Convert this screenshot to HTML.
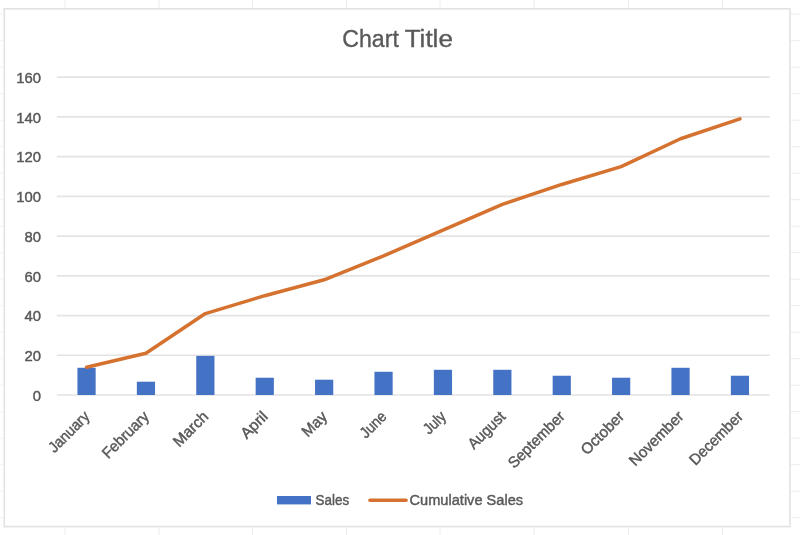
<!DOCTYPE html>
<html><head><meta charset="utf-8"><title>Chart Title</title>
<style>html,body{margin:0;padding:0;background:#fff;}svg{display:block;filter:blur(0.4px);}</style>
</head><body>
<svg width="800" height="535" viewBox="0 0 800 535">
<style>text{font-family:"Liberation Sans",sans-serif;fill:#595959;stroke:#595959;stroke-width:0.45px;} .t{stroke-width:0.35px;}</style>
<rect width="800" height="535" fill="#fff"/>
<line x1="65" y1="0" x2="65" y2="8" stroke="#ececec" stroke-width="1"/>
<line x1="65" y1="528" x2="65" y2="535" stroke="#ececec" stroke-width="1"/>
<line x1="159" y1="0" x2="159" y2="8" stroke="#ececec" stroke-width="1"/>
<line x1="159" y1="528" x2="159" y2="535" stroke="#ececec" stroke-width="1"/>
<line x1="252.5" y1="0" x2="252.5" y2="8" stroke="#ececec" stroke-width="1"/>
<line x1="252.5" y1="528" x2="252.5" y2="535" stroke="#ececec" stroke-width="1"/>
<line x1="346.5" y1="0" x2="346.5" y2="8" stroke="#ececec" stroke-width="1"/>
<line x1="346.5" y1="528" x2="346.5" y2="535" stroke="#ececec" stroke-width="1"/>
<line x1="440" y1="0" x2="440" y2="8" stroke="#ececec" stroke-width="1"/>
<line x1="440" y1="528" x2="440" y2="535" stroke="#ececec" stroke-width="1"/>
<line x1="534" y1="0" x2="534" y2="8" stroke="#ececec" stroke-width="1"/>
<line x1="534" y1="528" x2="534" y2="535" stroke="#ececec" stroke-width="1"/>
<line x1="628.5" y1="0" x2="628.5" y2="8" stroke="#ececec" stroke-width="1"/>
<line x1="628.5" y1="528" x2="628.5" y2="535" stroke="#ececec" stroke-width="1"/>
<line x1="722.5" y1="0" x2="722.5" y2="8" stroke="#ececec" stroke-width="1"/>
<line x1="722.5" y1="528" x2="722.5" y2="535" stroke="#ececec" stroke-width="1"/>
<line x1="0" y1="14.2" x2="3" y2="14.2" stroke="#f3f3f3" stroke-width="1"/>
<line x1="791" y1="14.2" x2="800" y2="14.2" stroke="#ececec" stroke-width="1"/>
<line x1="0" y1="40.7" x2="3" y2="40.7" stroke="#f3f3f3" stroke-width="1"/>
<line x1="791" y1="40.7" x2="800" y2="40.7" stroke="#ececec" stroke-width="1"/>
<line x1="0" y1="67.2" x2="3" y2="67.2" stroke="#f3f3f3" stroke-width="1"/>
<line x1="791" y1="67.2" x2="800" y2="67.2" stroke="#ececec" stroke-width="1"/>
<line x1="0" y1="93.7" x2="3" y2="93.7" stroke="#f3f3f3" stroke-width="1"/>
<line x1="791" y1="93.7" x2="800" y2="93.7" stroke="#ececec" stroke-width="1"/>
<line x1="0" y1="120.2" x2="3" y2="120.2" stroke="#f3f3f3" stroke-width="1"/>
<line x1="791" y1="120.2" x2="800" y2="120.2" stroke="#ececec" stroke-width="1"/>
<line x1="0" y1="146.7" x2="3" y2="146.7" stroke="#f3f3f3" stroke-width="1"/>
<line x1="791" y1="146.7" x2="800" y2="146.7" stroke="#ececec" stroke-width="1"/>
<line x1="0" y1="173.2" x2="3" y2="173.2" stroke="#f3f3f3" stroke-width="1"/>
<line x1="791" y1="173.2" x2="800" y2="173.2" stroke="#ececec" stroke-width="1"/>
<line x1="0" y1="199.7" x2="3" y2="199.7" stroke="#f3f3f3" stroke-width="1"/>
<line x1="791" y1="199.7" x2="800" y2="199.7" stroke="#ececec" stroke-width="1"/>
<line x1="0" y1="226.2" x2="3" y2="226.2" stroke="#f3f3f3" stroke-width="1"/>
<line x1="791" y1="226.2" x2="800" y2="226.2" stroke="#ececec" stroke-width="1"/>
<line x1="0" y1="252.7" x2="3" y2="252.7" stroke="#f3f3f3" stroke-width="1"/>
<line x1="791" y1="252.7" x2="800" y2="252.7" stroke="#ececec" stroke-width="1"/>
<line x1="0" y1="279.2" x2="3" y2="279.2" stroke="#f3f3f3" stroke-width="1"/>
<line x1="791" y1="279.2" x2="800" y2="279.2" stroke="#ececec" stroke-width="1"/>
<line x1="0" y1="305.7" x2="3" y2="305.7" stroke="#f3f3f3" stroke-width="1"/>
<line x1="791" y1="305.7" x2="800" y2="305.7" stroke="#ececec" stroke-width="1"/>
<line x1="0" y1="332.2" x2="3" y2="332.2" stroke="#f3f3f3" stroke-width="1"/>
<line x1="791" y1="332.2" x2="800" y2="332.2" stroke="#ececec" stroke-width="1"/>
<line x1="0" y1="358.7" x2="3" y2="358.7" stroke="#f3f3f3" stroke-width="1"/>
<line x1="791" y1="358.7" x2="800" y2="358.7" stroke="#ececec" stroke-width="1"/>
<line x1="0" y1="385.2" x2="3" y2="385.2" stroke="#f3f3f3" stroke-width="1"/>
<line x1="791" y1="385.2" x2="800" y2="385.2" stroke="#ececec" stroke-width="1"/>
<line x1="0" y1="411.7" x2="3" y2="411.7" stroke="#f3f3f3" stroke-width="1"/>
<line x1="791" y1="411.7" x2="800" y2="411.7" stroke="#ececec" stroke-width="1"/>
<line x1="0" y1="438.2" x2="3" y2="438.2" stroke="#f3f3f3" stroke-width="1"/>
<line x1="791" y1="438.2" x2="800" y2="438.2" stroke="#ececec" stroke-width="1"/>
<line x1="0" y1="464.7" x2="3" y2="464.7" stroke="#f3f3f3" stroke-width="1"/>
<line x1="791" y1="464.7" x2="800" y2="464.7" stroke="#ececec" stroke-width="1"/>
<line x1="0" y1="491.2" x2="3" y2="491.2" stroke="#f3f3f3" stroke-width="1"/>
<line x1="791" y1="491.2" x2="800" y2="491.2" stroke="#ececec" stroke-width="1"/>
<line x1="0" y1="517.7" x2="3" y2="517.7" stroke="#f3f3f3" stroke-width="1"/>
<line x1="791" y1="517.7" x2="800" y2="517.7" stroke="#ececec" stroke-width="1"/>
<rect x="4.3" y="8.8" width="785.7" height="517.8" fill="#fff" stroke="#e2e2e2" stroke-width="1.6"/>
<text class="t" x="342.3" y="47.2" font-size="23.3" textLength="56.5" lengthAdjust="spacingAndGlyphs">Chart</text>
<text class="t" x="404.7" y="47.2" font-size="23.3" textLength="48.2" lengthAdjust="spacingAndGlyphs">Title</text>
<line x1="56.85" y1="395.00" x2="769.65" y2="395.00" stroke="#e3e3e3" stroke-width="1.7"/>
<text x="41" y="400.80" text-anchor="end" font-family="Liberation Sans, sans-serif" font-size="15.4" fill="#595959" textLength="8.26" lengthAdjust="spacingAndGlyphs">0</text>
<line x1="56.85" y1="355.27" x2="769.65" y2="355.27" stroke="#e3e3e3" stroke-width="1.7"/>
<text x="41" y="361.07" text-anchor="end" font-family="Liberation Sans, sans-serif" font-size="15.4" fill="#595959" textLength="16.52" lengthAdjust="spacingAndGlyphs">20</text>
<line x1="56.85" y1="315.55" x2="769.65" y2="315.55" stroke="#e3e3e3" stroke-width="1.7"/>
<text x="41" y="321.35" text-anchor="end" font-family="Liberation Sans, sans-serif" font-size="15.4" fill="#595959" textLength="16.52" lengthAdjust="spacingAndGlyphs">40</text>
<line x1="56.85" y1="275.82" x2="769.65" y2="275.82" stroke="#e3e3e3" stroke-width="1.7"/>
<text x="41" y="281.62" text-anchor="end" font-family="Liberation Sans, sans-serif" font-size="15.4" fill="#595959" textLength="16.52" lengthAdjust="spacingAndGlyphs">60</text>
<line x1="56.85" y1="236.10" x2="769.65" y2="236.10" stroke="#e3e3e3" stroke-width="1.7"/>
<text x="41" y="241.90" text-anchor="end" font-family="Liberation Sans, sans-serif" font-size="15.4" fill="#595959" textLength="16.52" lengthAdjust="spacingAndGlyphs">80</text>
<line x1="56.85" y1="196.38" x2="769.65" y2="196.38" stroke="#e3e3e3" stroke-width="1.7"/>
<text x="41" y="202.18" text-anchor="end" font-family="Liberation Sans, sans-serif" font-size="15.4" fill="#595959" textLength="24.78" lengthAdjust="spacingAndGlyphs">100</text>
<line x1="56.85" y1="156.65" x2="769.65" y2="156.65" stroke="#e3e3e3" stroke-width="1.7"/>
<text x="41" y="162.45" text-anchor="end" font-family="Liberation Sans, sans-serif" font-size="15.4" fill="#595959" textLength="24.78" lengthAdjust="spacingAndGlyphs">120</text>
<line x1="56.85" y1="116.93" x2="769.65" y2="116.93" stroke="#e3e3e3" stroke-width="1.7"/>
<text x="41" y="122.73" text-anchor="end" font-family="Liberation Sans, sans-serif" font-size="15.4" fill="#595959" textLength="24.78" lengthAdjust="spacingAndGlyphs">140</text>
<line x1="56.85" y1="77.20" x2="769.65" y2="77.20" stroke="#e3e3e3" stroke-width="1.7"/>
<text x="41" y="83.00" text-anchor="end" font-family="Liberation Sans, sans-serif" font-size="15.4" fill="#595959" textLength="24.78" lengthAdjust="spacingAndGlyphs">160</text>
<rect x="77.45" y="367.79" width="18.2" height="27.21" fill="#4472c4"/>
<rect x="136.85" y="381.70" width="18.2" height="13.30" fill="#4472c4"/>
<rect x="196.25" y="355.88" width="18.2" height="39.12" fill="#4472c4"/>
<rect x="255.65" y="377.72" width="18.2" height="17.28" fill="#4472c4"/>
<rect x="315.05" y="379.71" width="18.2" height="15.29" fill="#4472c4"/>
<rect x="374.45" y="371.77" width="18.2" height="23.23" fill="#4472c4"/>
<rect x="433.85" y="369.78" width="18.2" height="25.22" fill="#4472c4"/>
<rect x="493.25" y="369.78" width="18.2" height="25.22" fill="#4472c4"/>
<rect x="552.65" y="375.74" width="18.2" height="19.26" fill="#4472c4"/>
<rect x="612.05" y="377.72" width="18.2" height="17.28" fill="#4472c4"/>
<rect x="671.45" y="367.79" width="18.2" height="27.21" fill="#4472c4"/>
<rect x="730.85" y="375.74" width="18.2" height="19.26" fill="#4472c4"/>
<polyline points="86.55,367.19 145.95,353.29 205.35,313.56 264.75,295.69 324.15,279.80 383.55,255.96 442.95,230.14 502.35,204.32 561.75,184.46 621.15,166.58 680.55,138.77 739.95,118.91" fill="none" stroke="#d5722f" stroke-width="3.5" stroke-linejoin="round" stroke-linecap="round"/>
<text transform="translate(90.55,417.5) rotate(-45)" text-anchor="end" font-family="Liberation Sans, sans-serif" font-size="15.4" fill="#595959" textLength="51.08" lengthAdjust="spacingAndGlyphs">January</text>
<text transform="translate(149.95,417.5) rotate(-45)" text-anchor="end" font-family="Liberation Sans, sans-serif" font-size="15.4" fill="#595959" textLength="59.12" lengthAdjust="spacingAndGlyphs">February</text>
<text transform="translate(209.35,417.5) rotate(-45)" text-anchor="end" font-family="Liberation Sans, sans-serif" font-size="15.4" fill="#595959" textLength="42.64" lengthAdjust="spacingAndGlyphs">March</text>
<text transform="translate(268.75,417.5) rotate(-45)" text-anchor="end" font-family="Liberation Sans, sans-serif" font-size="15.4" fill="#595959" textLength="31.16" lengthAdjust="spacingAndGlyphs">April</text>
<text transform="translate(328.15,417.5) rotate(-45)" text-anchor="end" font-family="Liberation Sans, sans-serif" font-size="15.4" fill="#595959" textLength="28.82" lengthAdjust="spacingAndGlyphs">May</text>
<text transform="translate(387.55,417.5) rotate(-45)" text-anchor="end" font-family="Liberation Sans, sans-serif" font-size="15.4" fill="#595959" textLength="30.44" lengthAdjust="spacingAndGlyphs">June</text>
<text transform="translate(446.95,417.5) rotate(-45)" text-anchor="end" font-family="Liberation Sans, sans-serif" font-size="15.4" fill="#595959" textLength="24.88" lengthAdjust="spacingAndGlyphs">July</text>
<text transform="translate(506.35,417.5) rotate(-45)" text-anchor="end" font-family="Liberation Sans, sans-serif" font-size="15.4" fill="#595959" textLength="45.88" lengthAdjust="spacingAndGlyphs">August</text>
<text transform="translate(565.75,417.5) rotate(-45)" text-anchor="end" font-family="Liberation Sans, sans-serif" font-size="15.4" fill="#595959" textLength="72.87" lengthAdjust="spacingAndGlyphs">September</text>
<text transform="translate(625.15,417.5) rotate(-45)" text-anchor="end" font-family="Liberation Sans, sans-serif" font-size="15.4" fill="#595959" textLength="53.94" lengthAdjust="spacingAndGlyphs">October</text>
<text transform="translate(684.55,417.5) rotate(-45)" text-anchor="end" font-family="Liberation Sans, sans-serif" font-size="15.4" fill="#595959" textLength="69.74" lengthAdjust="spacingAndGlyphs">November</text>
<text transform="translate(743.95,417.5) rotate(-45)" text-anchor="end" font-family="Liberation Sans, sans-serif" font-size="15.4" fill="#595959" textLength="68.52" lengthAdjust="spacingAndGlyphs">December</text>
<rect x="277" y="496" width="34" height="8.4" fill="#4472c4"/>
<text x="315.6" y="505.4" font-family="Liberation Sans, sans-serif" font-size="15.4" fill="#595959" textLength="33.52" lengthAdjust="spacingAndGlyphs">Sales</text>
<line x1="370" y1="500.3" x2="406" y2="500.3" stroke="#d5722f" stroke-width="3.5" stroke-linecap="round"/>
<text x="409.6" y="505.4" font-size="15.4" textLength="113.44" lengthAdjust="spacingAndGlyphs">Cumulative Sales</text>
</svg>
</body></html>
